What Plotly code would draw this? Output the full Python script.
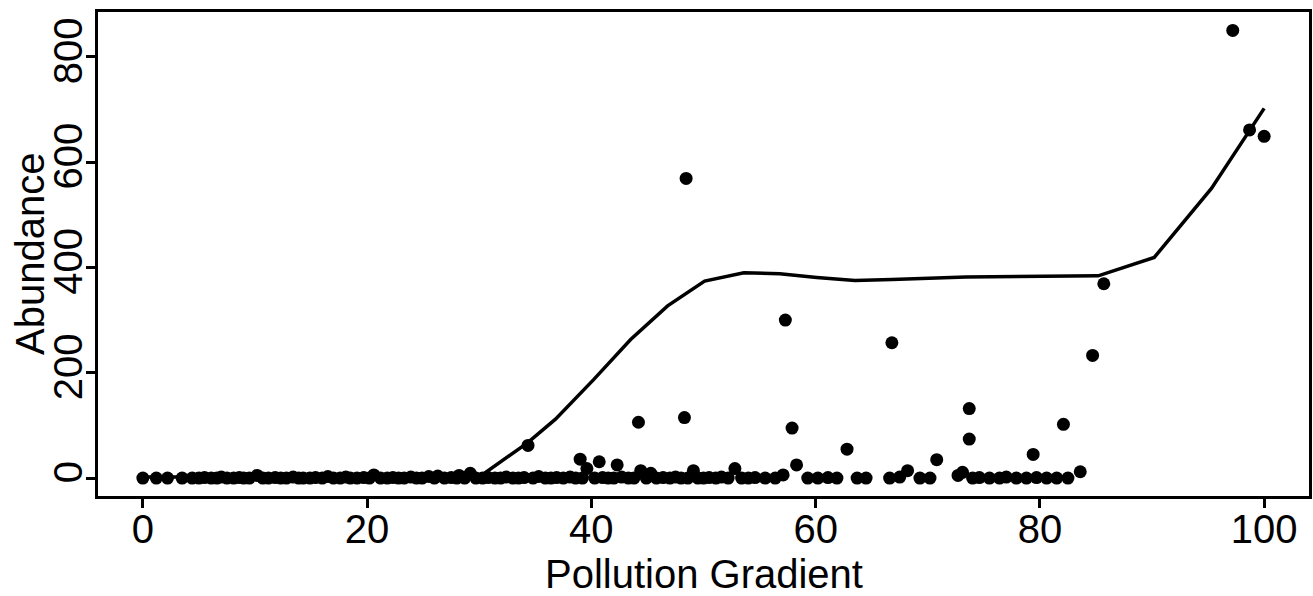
import plotly.graph_objects as go

# Points close to zero abundance
low_x = [0.0, 1.2, 2.2, 3.5, 4.4, 5.0, 5.5, 6.1, 6.6, 7.0, 7.5, 8.1, 8.6, 9.0, 9.5,
         10.2, 10.7, 11.2, 11.8, 12.3, 12.8, 13.4, 13.9, 14.3, 14.9, 15.4, 16.0, 16.5,
         17.0, 17.6, 18.1, 18.5, 19.1, 19.7, 20.2, 20.6, 21.2, 21.8, 22.3, 22.8, 23.3,
         23.9, 24.4, 24.9, 25.5, 26.0, 26.3, 26.9, 27.5, 28.0, 28.2, 28.7, 29.2, 29.7,
         30.3, 30.8, 31.4, 31.9, 32.4, 33.0, 33.5, 34.0, 34.8, 35.3, 35.9, 36.4, 36.9,
         37.5, 38.1, 38.6, 39.2, 39.6, 40.3, 41.0, 41.5, 42.0, 42.7, 43.3, 43.8, 44.4,
         44.9, 45.3, 45.8, 46.4, 47.0, 47.5, 48.0, 48.6, 49.1, 49.5, 50.0, 50.5, 51.1,
         51.6, 52.2, 52.8, 53.4, 54.0, 54.6, 55.5, 56.4, 57.1, 59.3, 60.2, 61.1, 61.9,
         63.7, 64.5, 66.6, 67.5, 68.2, 69.3, 70.2, 72.7, 73.1, 74.0, 74.6, 75.5, 76.4,
         77.0, 77.9, 78.8, 79.7, 80.6, 81.5, 82.5, 83.6]
low_y = [0, 0, 0, 0, 0, 0, 1, 0, 0, 2, 0, 0, 1, 0, 0,
         5, 0, 0, 1, 0, 0, 2, 0, 0, 0, 1, 0, 3,
         0, 0, 2, 0, 0, 1, 0, 6, 0, 0, 1, 0, 0,
         2, 0, 0, 3, 0, 4, 0, 1, 0, 5, 0, 9, 0,
         0, 1, 0, 0, 2, 0, 0, 1, 0, 3, 0, 0, 1,
         0, 2, 0, 0, 18, 0, 1, 0, 0, 2, 0, 0, 14,
         0, 9, 0, 1, 0, 2, 0, 0, 14, 0, 0, 1, 0,
         2, 0, 18, 0, 0, 1, 0, 0, 6, 0, 0, 1, 0,
         0, 0, 0, 2, 14, 0, 0, 5, 11, 0, 1, 0, 0,
         2, 0, 0, 1, 0, 0, 0, 12]

# Clearly raised abundances
high_x = [34.35, 39.0, 40.7, 42.3, 44.2, 48.3, 48.45, 57.3, 57.9, 58.3, 62.8,
          66.8, 70.8, 73.7, 73.7, 79.4, 82.1, 84.7, 85.7, 97.2, 98.7, 100.0]
high_y = [62, 36, 31, 25, 106, 115, 569, 300, 95, 25, 55,
          257, 35, 132, 74, 45, 102, 233, 369, 850, 661, 649]

# Fitted smooth curve
smooth_x = [0, 30.0, 34.3, 36.8, 40.2, 43.5, 46.8, 50.1, 53.6, 56.8, 60.1, 63.5,
            66.8, 70.0, 73.4, 85.2, 90.2, 95.3, 100.0]
smooth_y = [2, 2, 67, 112, 187, 263, 327, 374, 390, 388, 381, 375,
            377, 380, 382, 384, 419, 550, 702]

x_ticks = [0, 20, 40, 60, 80, 100]
y_ticks = [0, 200, 400, 600, 800]
x_title = "Pollution Gradient"
y_title = "Abundance"

FONT = "Liberation Sans, Arial, Helvetica, sans-serif"

fig = go.Figure()
fig.add_trace(go.Scatter(
    x=low_x + high_x, y=low_y + high_y, mode="markers",
    marker=dict(size=13, color="black", line=dict(width=0)),
    showlegend=False, hoverinfo="x+y"))
fig.add_trace(go.Scatter(
    x=smooth_x, y=smooth_y, mode="lines",
    line=dict(color="black", width=3.5),
    showlegend=False))

axis_common = dict(
    showgrid=False, zeroline=False, showline=True, mirror=True,
    linecolor="black", linewidth=3, ticks="outside", ticklen=9,
    tickwidth=3, tickcolor="black", automargin=False,
    tickfont=dict(family=FONT, size=40, color="black"),
)

fig.update_layout(
    width=1313, height=596,
    margin=dict(l=98, r=4, t=12, b=100),
    paper_bgcolor="white", plot_bgcolor="white",
    font=dict(family=FONT, size=40, color="black"),
    xaxis=dict(range=[-4, 104], tickvals=x_ticks, ticktext=[str(v) for v in x_ticks],
               ticklabelstandoff=-13, **axis_common),
    yaxis=dict(range=[-34, 885], tickvals=y_ticks, ticktext=[str(v) for v in y_ticks],
               tickangle=-90, ticklabelstandoff=-12, **axis_common),
    annotations=[
        dict(text=x_title, xref="paper", yref="paper", x=0.5, y=0,
             xanchor="center", yanchor="top", yshift=-55, borderpad=0,
             showarrow=False, font=dict(family=FONT, size=40, color="black")),
        dict(text=y_title, xref="paper", yref="paper", x=0, y=0.5,
             xanchor="left", yanchor="middle", xshift=-92, textangle=-90,
             showarrow=False, font=dict(family=FONT, size=40, color="black")),
    ],
)

fig.write_html(
    "out.html",
    config={"displayModeBar": False},
    post_script="document.body.style.margin='0';document.body.style.padding='0';",
)
